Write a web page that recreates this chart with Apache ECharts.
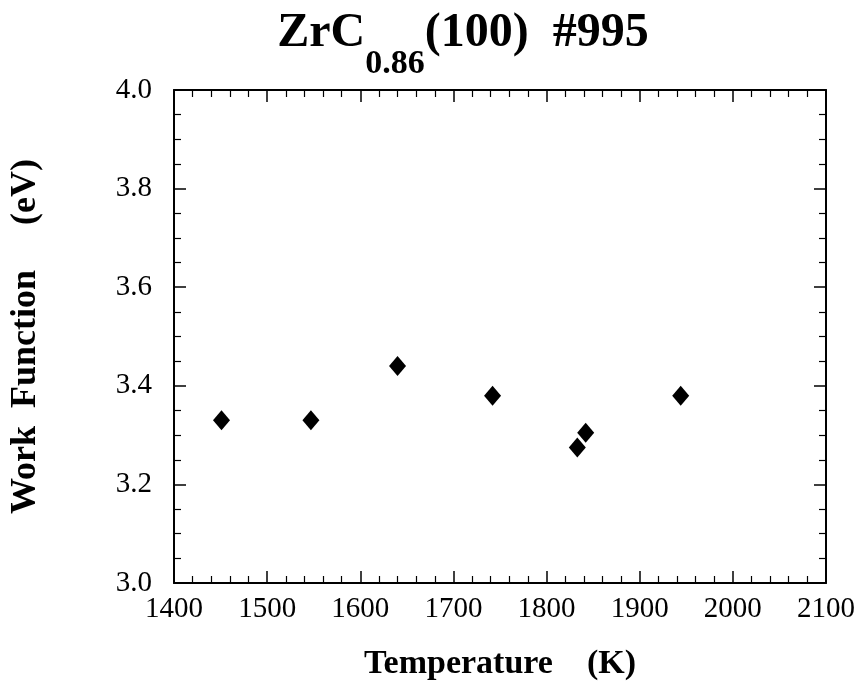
<!DOCTYPE html>
<html>
<head>
<meta charset="utf-8">
<script src="https://cdn.jsdelivr.net/npm/echarts@6/dist/echarts.min.js"></script>
<style>
  html, body { margin: 0; padding: 0; background: #fff; }
  #chart { width: 864px; height: 686px; }
</style>
</head>
<body>
<div id="chart"></div>
<script>
// temperatures (K) and work function (eV)
const temperatures = [1451, 1547, 1640, 1742, 1833, 1842, 1944];
const workFunction = [3.33, 3.33, 3.44, 3.38, 3.275, 3.305, 3.38];

const xRange = [1400, 2100];
const yRange = [3.0, 4.0];

const serif = '"Liberation Serif", "DejaVu Serif", serif';

const chart = echarts.init(document.getElementById('chart'));

// shared look for the framing axes
const lineStyle = { color: '#000', width: 2 };
const tickStyle = { inside: true, length: 12, lineStyle: { color: '#000', width: 1.5 } };
const minorStyle = { show: true, length: 7, lineStyle: { color: '#000', width: 1.2 } };

chart.setOption({
  animation: false,
  backgroundColor: '#fff',
  title: {
    text: '{a|ZrC}{b|0.86}{a|(100)  #995}',
    left: 458,
    textAlign: 'center',
    top: 5,
    textStyle: {
      rich: {
        a: { fontFamily: serif, fontWeight: 'bold', fontSize: 48, color: '#000', lineHeight: 70, verticalAlign: 'top' },
        b: { fontFamily: serif, fontWeight: 'bold', fontSize: 34, color: '#000', lineHeight: 70, padding: [38, 0, 0, 0] }
      }
    }
  },
  grid: { left: 173, right: 38, top: 90, bottom: 101 },
  xAxis: [{
    type: 'value',
    min: xRange[0], max: xRange[1], interval: 100,
    name: 'Temperature    (K)',
    nameLocation: 'middle',
    nameGap: 64,
    nameTextStyle: { fontFamily: serif, fontWeight: 'bold', fontSize: 34, color: '#000' },
    axisLine: { lineStyle: lineStyle },
    axisTick: tickStyle,
    minorTick: Object.assign({ splitNumber: 5 }, minorStyle),
    axisLabel: { fontFamily: serif, fontSize: 29, color: '#000', margin: 12, formatter: v => String(v) },
    splitLine: { show: false }
  }, {
    type: 'value',
    position: 'top',
    min: xRange[0], max: xRange[1], interval: 100,
    axisLine: { show: true, lineStyle: lineStyle },
    axisTick: tickStyle,
    minorTick: Object.assign({ splitNumber: 5 }, minorStyle),
    axisLabel: { show: false },
    splitLine: { show: false }
  }],
  yAxis: [{
    type: 'value',
    min: yRange[0], max: yRange[1], interval: 0.2,
    name: 'Work  Function     (eV)',
    nameLocation: 'middle',
    nameGap: 130,
    nameTextStyle: { fontFamily: serif, fontWeight: 'bold', fontSize: 36, color: '#000' },
    axisLine: { show: true, lineStyle: lineStyle },
    axisTick: tickStyle,
    minorTick: Object.assign({ splitNumber: 4 }, minorStyle),
    axisLabel: {
      fontFamily: serif, fontSize: 29, color: '#000', margin: 22,
      formatter: v => v.toFixed(1)
    },
    splitLine: { show: false }
  }, {
    type: 'value',
    position: 'right',
    min: yRange[0], max: yRange[1], interval: 0.2,
    axisLine: { show: true, lineStyle: lineStyle },
    axisTick: tickStyle,
    minorTick: Object.assign({ splitNumber: 4 }, minorStyle),
    axisLabel: { show: false },
    splitLine: { show: false }
  }],
  series: [{
    type: 'scatter',
    symbol: 'diamond',
    symbolSize: [17, 20],
    itemStyle: { color: '#000', opacity: 1 },
    data: temperatures.map((t, i) => [t, workFunction[i]])
  }]
});
</script>
</body>
</html>
